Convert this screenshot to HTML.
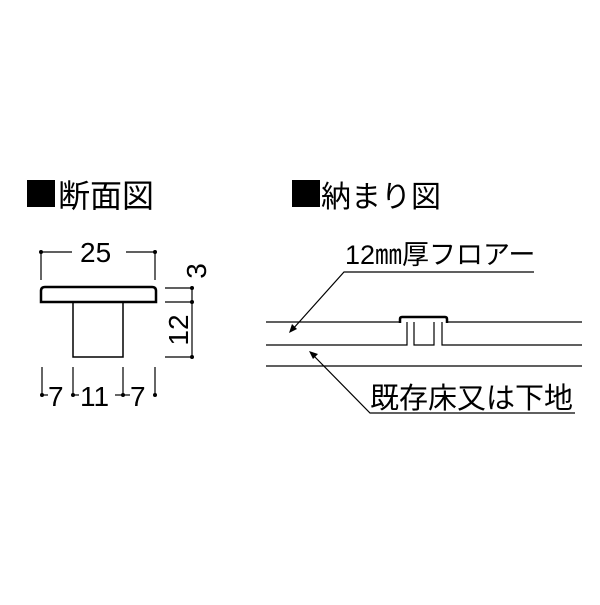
<!DOCTYPE html>
<html><head><meta charset="utf-8"><style>
body{margin:0;background:#fff;width:600px;height:600px;overflow:hidden}
</style></head><body>
<svg width="600" height="600" viewBox="0 0 600 600" xmlns="http://www.w3.org/2000/svg" font-family="Liberation Sans, Noto Sans CJK JP, sans-serif">
<rect x="27" y="180" width="28" height="27" fill="#000"/>
<text x="58" y="207" font-size="32" font-family="Noto Sans CJK JP, sans-serif">断面図</text>
<rect x="292" y="180" width="28" height="27" fill="#000"/>
<text x="321" y="207" font-size="30" font-family="Noto Sans CJK JP, sans-serif">納まり図</text>

<g stroke="#000" stroke-width="1.2" fill="none">
<line x1="41" y1="252" x2="72" y2="252"/><line x1="126" y1="252" x2="155" y2="252"/>
<line x1="41" y1="252" x2="41" y2="280"/><line x1="155" y1="252" x2="155" y2="280"/>
<path d="M41,302 L41,291 Q41,287 45,287 L152,287 Q156,287 156,291 L156,302 Z" stroke-width="2.5"/>
<path d="M41,302 L73,302 L73,357 L123,357 L123,302 L156,302" stroke-width="1.5"/>
<line x1="165" y1="288" x2="192" y2="288"/><line x1="165" y1="302" x2="192" y2="302"/><line x1="165" y1="357" x2="192" y2="357"/>
<line x1="192" y1="288" x2="192" y2="357"/>
<line x1="42" y1="367" x2="42" y2="395"/><line x1="73" y1="367" x2="73" y2="395"/><line x1="123" y1="367" x2="123" y2="395"/><line x1="155" y1="367" x2="155" y2="395"/>
<line x1="42" y1="395" x2="48" y2="395"/><line x1="73" y1="395" x2="79" y2="395"/><line x1="115" y1="395" x2="123" y2="395"/><line x1="123" y1="395" x2="130" y2="395"/>
</g>
<g fill="#000">
<circle cx="41" cy="252" r="2"/><circle cx="155" cy="252" r="2"/>
<circle cx="192" cy="288" r="2"/><circle cx="192" cy="302" r="2"/><circle cx="192" cy="357" r="2"/>
<circle cx="42" cy="395" r="2"/><circle cx="73" cy="395" r="2"/><circle cx="123" cy="395" r="2"/><circle cx="155" cy="395" r="2"/>
</g>
<g font-size="28">
<text x="80" y="262">25</text>
<text x="48" y="406">7</text>
<text x="80" y="406">11</text>
<text x="130" y="406">7</text>
<text transform="translate(206,271) rotate(-90)" text-anchor="middle">3</text>
<text transform="translate(188,330) rotate(-90)" text-anchor="middle">12</text>
</g>

<g stroke="#000" stroke-width="1.2" fill="none">
<path d="M266,322 L400,322 M447,322 L582,322"/>
<path d="M266,345 L407,345 L407,322 M414,322 L414,345 L434,345 L434,322 M442,322 L442,345 L582,345"/>
<line x1="266" y1="366" x2="582" y2="366"/>
<path d="M400,323 L400,319 Q400,317 402,317 L445,317 Q447,317 447,319 L447,323" stroke-width="2.5"/>
<path d="M534,272 L344,272 L292,330"/>
<path d="M312,354 L370,413 L575,413"/>
</g>
<polygon points="289,333 292,324 297,329" fill="#000"/>
<polygon points="309,351 318,354 313,359" fill="#000"/>
<text x="345" y="264" font-size="27">12㎜厚フロアー</text>
<text x="370" y="408" font-size="29">既存床又は下地</text>
</svg>
</body></html>
